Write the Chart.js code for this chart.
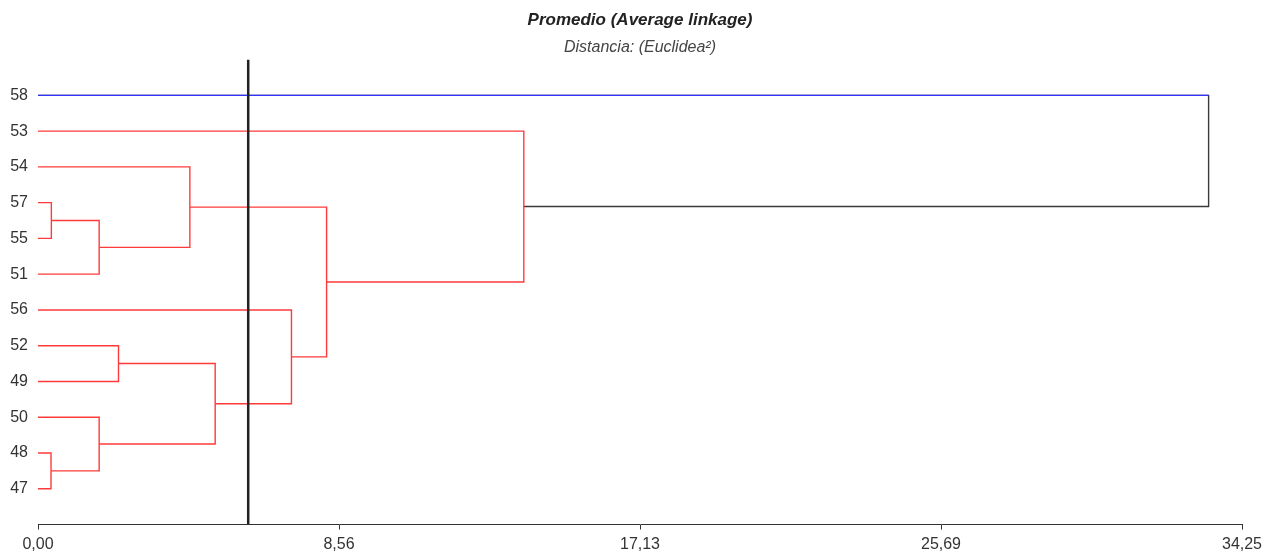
<!DOCTYPE html>
<html>
<head>
<meta charset="utf-8">
<title>Promedio (Average linkage)</title>
<script src="https://cdn.jsdelivr.net/npm/chart.js"></script>
<style>
	html, body { margin: 0; padding: 0; background: #fff; }
</style>
</head>
<body>
<canvas id="myChart" width="1274" height="556"></canvas>
<script>
// hojas, de arriba a abajo
const leafLabels = ['58', '53', '54', '57', '55', '51', '56', '52', '49', '50', '48', '47'];
// uniones: 0-11 son hojas, 12 en adelante los grupos en el orden en que se forman
const mergeLeft = [3, 12, 2, 7, 10, 9, 15, 6, 14, 1, 0];
const mergeRight = [4, 5, 13, 8, 11, 16, 17, 18, 19, 20, 21];
const mergeHeight = [0.38, 1.74, 4.32, 2.29, 0.37, 1.74, 5.04, 7.21, 8.21, 13.82, 33.30];
const cutHeight = 5.98;
const xTicks = [0, 8.5625, 17.125, 25.6875, 34.25];

const FONT = "'Liberation Sans', Arial, sans-serif";
const RED = '#ff3a3a';
const BLUE = '#3232ff';
const DARK = '#333333';

class Dendrogram {
	constructor (){
		const _ = this;

		_.init();
	}

	buildLinks(){
		const _ = this;
		const n = leafLabels.length;
		let pos = [], height = [], datasets = [];

		for (let i = 0; i < n; i++) {
			pos.push(n - i);
			height.push(0);
		}

		for (let k = 0; k < mergeHeight.length; k++) {
			let a = mergeLeft[k], b = mergeRight[k], h = mergeHeight[k];
			pos.push((pos[a] + pos[b]) / 2);
			height.push(h);
			datasets.push({
				data: [
					{x: height[a], y: pos[a]},
					{x: h, y: pos[a]},
					{x: h, y: pos[b]},
					{x: height[b], y: pos[b]}
				],
				borderColor: k === mergeHeight.length - 1 ? '#3a3a3a' : RED,
				borderWidth: 1.4,
				order: 0
			});
		}

		// la hoja que solo se une en la raiz va en azul
		let last = mergeHeight.length - 1;
		datasets.push({
			data: [
				{x: 0, y: pos[mergeLeft[last]]},
				{x: mergeHeight[last], y: pos[mergeLeft[last]]}
			],
			borderColor: BLUE,
			borderWidth: 1.4,
			order: -1
		});

		// linea de corte
		datasets.push({
			data: [
				{x: cutHeight, y: 0},
				{x: cutHeight, y: n + 1}
			],
			borderColor: '#222222',
			borderWidth: 2.5,
			order: -2
		});

		datasets.forEach(function (d){
			d.showLine = true;
			d.pointRadius = 0;
			d.tension = 0;
			d.fill = false;
		});

		return datasets;
	}

	start(){
		const _ = this;
		const ctx = document.getElementById('myChart');
		const n = leafLabels.length;

		const myChart = new Chart(ctx, {
			type: 'scatter',
			data: { datasets: _.buildLinks() },
			options: {
				responsive: false,
				animation: false,
				events: [],
				layout: { padding: { left: 0, right: 32, top: 0, bottom: 0 } },
				plugins: {
					legend: { display: false },
					tooltip: { enabled: false },
					title: {
						display: true,
						fullSize: false,
						text: 'Promedio (Average linkage)',
						color: '#222',
						font: { family: FONT, size: 17, weight: 'bold', style: 'italic' },
						padding: { top: 10, bottom: 7 }
					},
					subtitle: {
						display: true,
						fullSize: false,
						text: 'Distancia: (Euclidea²)',
						color: '#444',
						font: { family: FONT, size: 16, style: 'italic' },
						padding: { top: 1, bottom: 2 }
					}
				},
				scales: {
					x: {
						type: 'linear',
						min: 0,
						max: xTicks[xTicks.length - 1],
						afterBuildTicks: function (scale){
							scale.ticks = xTicks.map(function (v){ return {value: v}; });
						},
						afterFit: function (scale){
							scale.height = 31.5;
						},
						ticks: {
							color: DARK,
							padding: 5,
							maxRotation: 0,
							font: { family: FONT, size: 16 },
							callback: function (v){ return v.toFixed(2).replace('.', ','); }
						},
						grid: {
							drawOnChartArea: false,
							drawTicks: true,
							tickLength: 5,
							color: DARK
						},
						border: { display: true, color: DARK, width: 1 }
					},
					y: {
						type: 'linear',
						min: 0,
						max: n + 1,
						afterBuildTicks: function (scale){
							scale.ticks = leafLabels.map(function (l, i){ return {value: n - i}; });
						},
						afterFit: function (scale){
							scale.width = 38;
						},
						ticks: {
							color: DARK,
							padding: 10,
							font: { family: FONT, size: 16 },
							callback: function (v){ return leafLabels[n - v]; }
						},
						grid: { display: false, drawTicks: false },
						border: { display: false }
					}
				}
			}
		});
	}

	init(){
		const _ = this;
		_.start();
	}
}
new Dendrogram();
</script>
</body>
</html>
